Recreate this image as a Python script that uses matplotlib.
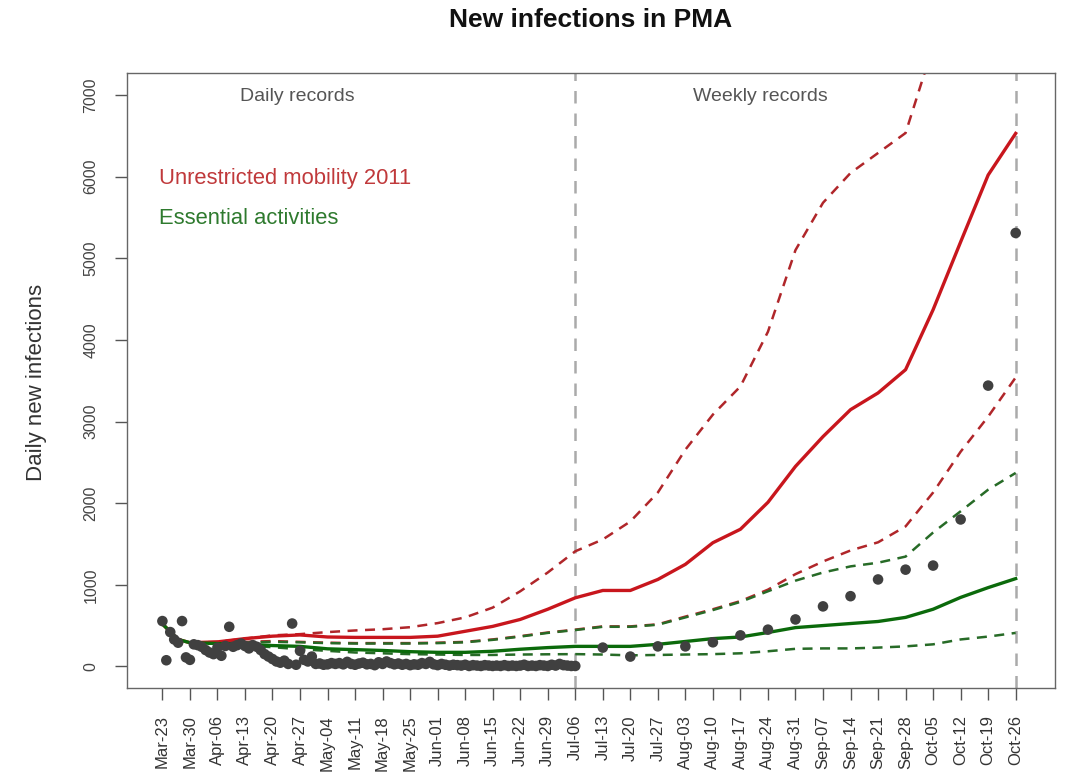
import matplotlib
matplotlib.use("Agg")
import matplotlib.pyplot as plt

plt.rcParams['font.family'] = ['Liberation Sans', 'DejaVu Sans']

# Week labels along the x axis (one per week, day 0 = Mar-23)
week_labels = ["Mar-23", "Mar-30", "Apr-06", "Apr-13", "Apr-20", "Apr-27", "May-04",
               "May-11", "May-18", "May-25", "Jun-01", "Jun-08", "Jun-15", "Jun-22",
               "Jun-29", "Jul-06", "Jul-13", "Jul-20", "Jul-27", "Aug-03", "Aug-10",
               "Aug-17", "Aug-24", "Aug-31", "Sep-07", "Sep-14", "Sep-21", "Sep-28",
               "Oct-05", "Oct-12", "Oct-19", "Oct-26"]
week_days = [7 * i for i in range(len(week_labels))]

# Model projections (day offsets and values)
curve_days = [0, 4, 7, 14, 21, 28, 35, 42, 49, 56, 63, 70, 77, 84, 91, 98, 105,
              112, 119, 126, 133, 140, 147, 154, 161, 168, 175, 182, 189, 196, 203, 210, 217]

unrestricted_mid = [520, 330, 290, 300, 340, 370, 385, 360, 355, 355, 355, 370, 430, 490,
                    575, 700, 840, 930, 930, 1065, 1250, 1515, 1680, 2010, 2450, 2815,
                    3145, 3350, 3635, 4370, 5200, 6020, 6530]
unrestricted_hi = [520, 330, 290, 300, 340, 380, 395, 420, 440, 455, 480, 530, 600, 720,
                   920, 1150, 1410, 1555, 1775, 2130, 2655, 3085, 3430, 4100, 5100, 5680,
                   6045, 6290, 6535, 7600, 8600, 9500, 10400]
unrestricted_lo = [520, 330, 290, 290, 300, 310, 300, 290, 285, 285, 285, 290, 300, 330,
                   370, 415, 450, 490, 490, 515, 610, 700, 800, 940, 1130, 1285, 1420,
                   1520, 1715, 2130, 2630, 3060, 3540]

essential_mid = [520, 330, 290, 280, 270, 255, 245, 215, 205, 195, 180, 172, 172, 185,
                 210, 230, 245, 245, 245, 270, 305, 340, 360, 415, 475, 500, 525, 550,
                 600, 700, 845, 965, 1075]
essential_hi = [520, 330, 290, 285, 290, 300, 295, 285, 280, 280, 280, 285, 295, 325,
                365, 410, 445, 485, 485, 510, 600, 690, 790, 920, 1050, 1150, 1225, 1270,
                1345, 1640, 1900, 2165, 2370]
essential_lo = [520, 330, 290, 275, 255, 235, 210, 190, 170, 160, 150, 145, 140, 140,
                145, 148, 150, 145, 135, 140, 145, 150, 160, 185, 215, 220, 220, 230,
                245, 270, 330, 365, 410]

# Observed daily records (days 0..105)
daily_obs = [555, 75, 420, 330, 290, 555, 110, 80, 270, 260,
             240, 200, 170, 150, 230, 130, 250, 485, 240, 260,
             280, 250, 220, 260, 240, 200, 150, 120, 90, 60,
             45, 70, 30, 525, 20, 190, 80, 60, 120, 30,
             35, 20, 25, 40, 30, 40, 25, 55, 30, 20,
             35, 45, 25, 30, 15, 50, 30, 60, 40, 25,
             35, 20, 30, 15, 25, 20, 40, 30, 55, 25,
             15, 30, 20, 10, 20, 15, 10, 20, 5, 15,
             10, 5, 15, 10, 5, 10, 5, 15, 5, 10,
             5, 10, 20, 5, 10, 5, 15, 10, 5, 20,
             10, 30, 15, 10, 5, 5]
daily_days = list(range(len(daily_obs)))

# Observed weekly records (Jul-13 .. Oct-26)
weekly_days = [112, 119, 126, 133, 140, 147, 154, 161, 168, 175, 182, 189, 196, 203, 210, 217]
weekly_obs = [230, 120, 245, 245, 295, 380, 450, 575, 735, 860, 1065, 1185, 1235, 1800,
              3440, 5310]

# Boundaries between daily and weekly reporting
split_days = [105, 217]

RED = "#c8161d"
RED_D = "#b0262a"
GREEN = "#0b6a0b"
GREEN_D = "#276b27"
GREY = "#555555"

W, H = 1066, 772
fig = plt.figure(figsize=(W / 100, H / 100), dpi=100)
ax = fig.add_axes([127 / W, 1 - 688 / H, (1055 - 127) / W, (688 - 73) / H])

for d in split_days:
    ax.axvline(d, color="#aaaaaa", lw=1.8, dashes=(5, 4), zorder=1)

dash = (4, 3)
ax.plot(curve_days, unrestricted_hi, color=RED_D, lw=1.8, dashes=dash, zorder=2)
ax.plot(curve_days, unrestricted_lo, color=RED_D, lw=1.8, dashes=dash, zorder=2)
ax.plot(curve_days, essential_hi, color=GREEN_D, lw=1.8, dashes=dash, zorder=2)
ax.plot(curve_days, essential_lo, color=GREEN_D, lw=1.8, dashes=dash, zorder=2)
ax.plot(curve_days, unrestricted_mid, color=RED, lw=2.4, zorder=3)
ax.plot(curve_days, essential_mid, color=GREEN, lw=2.4, zorder=3)

ax.scatter(daily_days, daily_obs, s=58, color="#404040", edgecolors="none", zorder=4)
ax.scatter(weekly_days, weekly_obs, s=58, color="#404040", edgecolors="none", zorder=4)

ax.set_xlim(-9, 227)
ax.set_ylim(-265, 7270)

ax.set_xticks(week_days)
ax.set_xticklabels(week_labels, rotation=90, fontsize=12, color="#333333")
yt = [0, 1000, 2000, 3000, 4000, 5000, 6000, 7000]
ax.set_yticks(yt)
ax.set_yticklabels([str(v) for v in yt], rotation=90, va="center", fontsize=11.5,
                   color="#444444")
ax.tick_params(axis="both", length=8.5, width=1, color="#555555")
ax.tick_params(axis="y", pad=12)
ax.tick_params(axis="x", pad=11)

for s in ax.spines.values():
    s.set_color("#666666")
    s.set_linewidth(1.0)

fig.text(37 / W, 1 - 382 / H, "Daily new infections", rotation=90, ha="center",
         va="center", fontsize=16, color="#333333")
fig.text(591 / W, 1 - 20 / H, "New infections in PMA", ha="center", va="center",
         fontsize=19, fontweight="bold", color="#111111")

ax.text(0.183, 0.961, "Daily records", transform=ax.transAxes, ha="center", va="center",
        fontsize=14, color=GREY)
ax.text(0.682, 0.961, "Weekly records", transform=ax.transAxes, ha="center", va="center",
        fontsize=14, color=GREY)
ax.text(0.035, 0.829, "Unrestricted mobility 2011", transform=ax.transAxes, ha="left",
        va="center", fontsize=15.8, color="#c0393b")
ax.text(0.035, 0.764, "Essential activities", transform=ax.transAxes, ha="left",
        va="center", fontsize=15.8, color="#2e7a2e")

fig.savefig("out.png", dpi=100, facecolor="white")
